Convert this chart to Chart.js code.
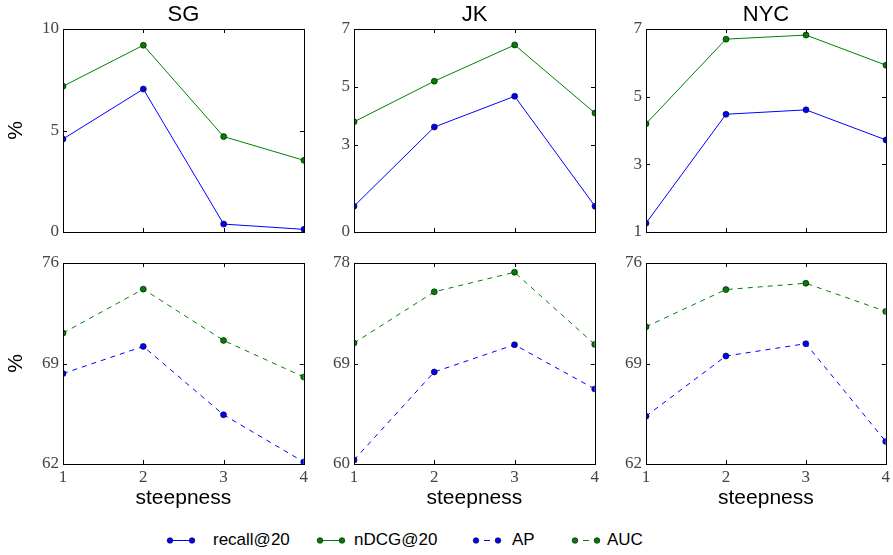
<!DOCTYPE html>
<html>
<head>
<meta charset="utf-8">
<script src="https://cdn.jsdelivr.net/npm/chart.js@4.4.0/dist/chart.umd.min.js"></script>
<style>
  body { margin: 0; background: #fff; width: 893px; height: 555px; position: relative; overflow: hidden; }
  canvas { position: absolute; }
  .leg { position: absolute; top: 530px; font-family: "Liberation Sans", Arial, sans-serif; font-size: 17px; line-height: 20px; color: #000; white-space: nowrap; }
  #legendMarks { position: absolute; left: 0; top: 530px; }
</style>
</head>
<body>
<svg id="legendMarks" width="893" height="20"></svg>
<span class="leg" style="left:213px">recall@20</span>
<span class="leg" style="left:354px">nDCG@20</span>
<span class="leg" style="left:512px">AP</span>
<span class="leg" style="left:607px">AUC</span>
<script>
// x values
const steepness = ["1", "2", "3", "4"];

// top row: recall@20 / nDCG@20 (%)
const sgRecall = [4.58, 7.04, 0.39, 0.13];
const sgNdcg = [7.18, 9.2, 4.7, 3.53];
const jkRecall = [0.89, 3.62, 4.68, 0.89];
const jkNdcg = [3.8, 5.2, 6.45, 4.1];
const nycRecall = [1.26, 4.48, 4.61, 3.72];
const nycNdcg = [4.2, 6.7, 6.82, 5.93];

// bottom row: AP / AUC (%)
const sgAP = [68.3, 70.19, 65.43, 62.14];
const sgAUC = [71.12, 74.18, 70.61, 68.06];
const jkAP = [60.36, 68.24, 70.68, 66.72];
const jkAUC = [70.83, 75.42, 77.17, 70.71];
const nycAP = [65.33, 69.52, 70.38, 63.57];
const nycAUC = [71.56, 74.15, 74.59, 72.63];

// y tick labels
const sgTopTicks = [0, 5, 10];
const jkTopTicks = [0, 3, 5, 7];
const nycTopTicks = [1, 3, 5, 7];
const sgBottomTicks = [62, 69, 76];
const jkBottomTicks = [60, 69, 78];
const nycBottomTicks = [62, 69, 76];

const BLUE = "#0000ff";
const GREEN = "#008000";
const SANS = '"Liberation Sans", Arial, sans-serif';
const SERIF = '"Liberation Serif", "Times New Roman", serif';

// draws the axes box and inward ticks on all four sides
const boxTicks = {
  id: "boxTicks",
  afterDatasetsDraw(chart) {
    const { ctx, chartArea: a, scales } = chart;
    const len = 4;
    ctx.save();
    ctx.strokeStyle = "#000";
    ctx.lineWidth = 1;
    ctx.beginPath();
    scales.x.ticks.forEach((t, i) => {
      const px = Math.round(scales.x.getPixelForTick(i)) + 0.5;
      ctx.moveTo(px, a.bottom);
      ctx.lineTo(px, a.bottom - len);
      ctx.moveTo(px, a.top);
      ctx.lineTo(px, a.top + len);
    });
    scales.y.ticks.forEach((t) => {
      const py = Math.round(scales.y.getPixelForValue(t.value)) + 0.5;
      ctx.moveTo(a.left, py);
      ctx.lineTo(a.left + len, py);
      ctx.moveTo(a.right, py);
      ctx.lineTo(a.right - len, py);
    });
    ctx.stroke();
    ctx.strokeRect(Math.round(a.left) + 0.5, Math.round(a.top) + 0.5,
      Math.round(a.right - a.left), Math.round(a.bottom - a.top));
    ctx.restore();
  },
};

function makePanel(box, isTop, title, yTicks, showYTitle, series) {
  const canvas = document.createElement("canvas");
  const left = box.left - 63;
  const top = isTop ? 0 : box.top - 16;
  const bottomRoom = isTop ? 20 : 48;
  canvas.width = box.right - box.left + 63 + 7;
  canvas.height = box.bottom - top + bottomRoom;
  canvas.style.left = left + "px";
  canvas.style.top = top + "px";
  canvas.style.width = canvas.width + "px";
  canvas.style.height = canvas.height + "px";
  document.body.appendChild(canvas);

  return new Chart(canvas, {
    type: "line",
    data: {
      labels: steepness,
      datasets: series.map((s) => ({
        label: s.label,
        data: s.data,
        borderColor: s.color,
        backgroundColor: s.color,
        borderWidth: 1,
        borderDash: s.dashed ? [5, 5] : [],
        pointRadius: 3,
        pointBorderColor: "#000",
        pointBorderWidth: 0.6,
        pointBackgroundColor: s.color,
        tension: 0,
        clip: 0,
      })),
    },
    options: {
      responsive: false,
      animation: false,
      devicePixelRatio: 1,
      layout: { padding: { left: 0, right: 7, top: isTop ? 0 : 16, bottom: 0 } },
      plugins: {
        legend: { display: false },
        tooltip: { enabled: false },
        title: {
          display: isTop,
          text: title,
          fullSize: false,
          color: "#000",
          font: { family: SANS, size: 22, weight: "normal", lineHeight: 1 },
          padding: { top: 4, bottom: 3 },
        },
      },
      scales: {
        x: {
          grid: { display: false, drawTicks: false },
          border: { display: false },
          ticks: {
            display: !isTop,
            color: "#444",
            font: { family: SERIF, size: 17 },
            padding: 3,
            maxRotation: 0,
            autoSkip: false,
          },
          title: {
            display: !isTop,
            text: "steepness",
            color: "#000",
            font: { family: SANS, size: 21 },
            padding: { top: 0, bottom: 1 },
          },
          afterFit: (scale) => {
            scale.height = bottomRoom;
          },
        },
        y: {
          min: yTicks[0],
          max: yTicks[yTicks.length - 1],
          afterBuildTicks: (scale) => {
            scale.ticks = yTicks.map((v) => ({ value: v }));
          },
          grid: { display: false, drawTicks: false },
          border: { display: false },
          ticks: {
            color: "#444",
            font: { family: SERIF, size: 17 },
            padding: 4,
          },
          title: {
            display: showYTitle,
            text: "%",
            color: "#000",
            font: { family: SANS, size: 21 },
            padding: { top: 4, bottom: 0 },
          },
          afterFit: (scale) => {
            scale.width = 63;
          },
        },
      },
    },
    plugins: [boxTicks],
  });
}

const cols = [
  { left: 63, right: 304 },
  { left: 354, right: 595 },
  { left: 646, right: 886 },
];

makePanel({ ...cols[0], top: 29, bottom: 232 }, true, "SG", sgTopTicks, true, [
  { label: "recall@20", data: sgRecall, color: BLUE },
  { label: "nDCG@20", data: sgNdcg, color: GREEN },
]);
makePanel({ ...cols[1], top: 29, bottom: 232 }, true, "JK", jkTopTicks, false, [
  { label: "recall@20", data: jkRecall, color: BLUE },
  { label: "nDCG@20", data: jkNdcg, color: GREEN },
]);
makePanel({ ...cols[2], top: 29, bottom: 232 }, true, "NYC", nycTopTicks, false, [
  { label: "recall@20", data: nycRecall, color: BLUE },
  { label: "nDCG@20", data: nycNdcg, color: GREEN },
]);
makePanel({ ...cols[0], top: 263, bottom: 464 }, false, "SG", sgBottomTicks, true, [
  { label: "AP", data: sgAP, color: BLUE, dashed: true },
  { label: "AUC", data: sgAUC, color: GREEN, dashed: true },
]);
makePanel({ ...cols[1], top: 263, bottom: 464 }, false, "JK", jkBottomTicks, false, [
  { label: "AP", data: jkAP, color: BLUE, dashed: true },
  { label: "AUC", data: jkAUC, color: GREEN, dashed: true },
]);
makePanel({ ...cols[2], top: 263, bottom: 464 }, false, "NYC", nycBottomTicks, false, [
  { label: "AP", data: nycAP, color: BLUE, dashed: true },
  { label: "AUC", data: nycAUC, color: GREEN, dashed: true },
]);

// shared legend swatches
const legendItems = [
  { a: 170, b: 192, color: BLUE, dashed: false },
  { a: 320, b: 342, color: GREEN, dashed: false },
  { a: 476, b: 498, color: BLUE, dashed: true },
  { a: 575, b: 597, color: GREEN, dashed: true },
];
const svg = document.getElementById("legendMarks");
let marks = "";
legendItems.forEach((it) => {
  if (it.dashed) {
    const mid = (it.a + it.b) / 2;
    marks += `<line x1="${mid - 3}" y1="10.5" x2="${mid + 3}" y2="10.5" stroke="${it.color}" stroke-width="1"/>`;
  } else {
    marks += `<line x1="${it.a}" y1="10.5" x2="${it.b}" y2="10.5" stroke="${it.color}" stroke-width="1"/>`;
  }
  [it.a, it.b].forEach((cx) => {
    marks += `<circle cx="${cx}" cy="10.5" r="2.8" fill="${it.color}" stroke="#000" stroke-width="0.6"/>`;
  });
});
svg.innerHTML = marks;
</script>
</body>
</html>
